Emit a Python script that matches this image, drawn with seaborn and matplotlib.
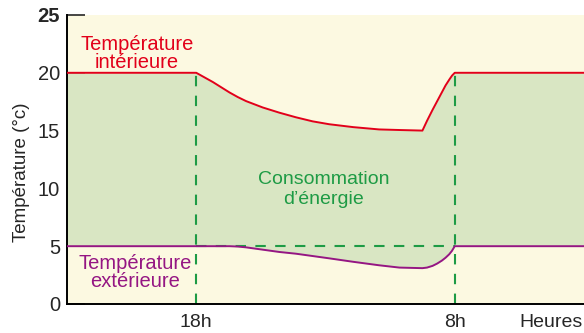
import numpy as np
import pandas as pd
import matplotlib
matplotlib.use("Agg")
import matplotlib.pyplot as plt
import seaborn as sns

# Hours (18h -> 18, 8h next morning -> 32)
hours = [11, 18, 18.45, 18.9, 19.35, 19.8, 20.25, 20.7, 21.6, 22.5, 23.4, 24.3,
         25.2, 26.5, 27.9, 29, 30.25, 30.5, 30.8, 31.05, 31.3, 31.5, 31.7,
         31.85, 32, 39]
# Indoor temperature (°C)
t_int = [20, 20, 19.6, 19.2, 18.75, 18.3, 17.9, 17.55, 17.0, 16.55, 16.15, 15.8,
         15.55, 15.3, 15.1, 15.05, 15.0, 15.85, 16.8, 17.55, 18.3, 18.9, 19.4,
         19.75, 20, 20]
# Outdoor temperature (°C)
t_ext = [5, 5, 5, 5, 5, 5, 4.97, 4.9, 4.7, 4.5, 4.35, 4.15,
         3.95, 3.65, 3.35, 3.15, 3.1, 3.15, 3.3, 3.5, 3.75, 4.0, 4.3,
         4.6, 5, 5]

tick_pos = [18, 32, 37.2]
tick_labels = ["18h", "8h", "Heures"]
y_ticks = [0, 5, 10, 15, 20, 25]

df = pd.DataFrame({"h": hours, "int": t_int, "ext": t_ext})

sns.set_theme(style="ticks")
plt.rcParams["font.family"] = ["Liberation Sans", "DejaVu Sans"]

fig = plt.figure(figsize=(5.84, 3.33), dpi=100)
ax = fig.add_axes([0.1147, 0.0871, 0.8853, 0.8679])
ax.set_facecolor("#FCF9E1")

red = "#E2001A"
purple = "#951683"
green = "#1E9B45"

ax.fill_between(df["h"], df["ext"], df["int"], color="#D9E6C3", lw=0, zorder=1)

# Reference lines at 18h and 8h, and at the outdoor baseline
for xv in (18, 32):
    ax.plot([xv, xv], [0, 20], color=green, lw=1.5, ls=(0, (5, 4.5)), zorder=2)
ax.plot([18, 32], [5, 5], color=green, lw=1.5, ls=(0, (5, 4.5)), zorder=2)

sns.lineplot(data=df, x="h", y="int", color=red, lw=1.4, ax=ax, zorder=3)
sns.lineplot(data=df, x="h", y="ext", color=purple, lw=1.4, ax=ax, zorder=3)

ax.set_xlim(11, 39)
ax.set_ylim(0, 25)
ax.set_xticks(tick_pos)
ax.set_xticklabels(tick_labels, fontsize=14)
ax.set_yticks(y_ticks)
ax.set_yticklabels([str(v) for v in y_ticks], fontsize=14.5)
ax.get_yticklabels()[-1].set_fontweight("bold")
ax.tick_params(axis="x", length=0, pad=7)
ax.tick_params(axis="y", direction="in", length=13, width=1.2, pad=5)
ax.set_xlabel("")
ax.set_ylabel("Température (°c)", fontsize=13.5)
ax.yaxis.set_label_coords(-0.072, 0.455)

for s in ("top", "right"):
    ax.spines[s].set_visible(False)
for s in ("left", "bottom"):
    ax.spines[s].set_linewidth(1.4)
    ax.spines[s].set_color("black")

ax.text(14.8, 21.7, "Température\nintérieure", color=red, fontsize=14.5,
        ha="center", va="center", linespacing=0.95)
ax.text(14.7, 2.75, "Température\nextérieure", color=purple, fontsize=14.5,
        ha="center", va="center", linespacing=0.95)
ax.text(24.9, 9.9, "Consommation\nd\u2019énergie", color=green, fontsize=14,
        ha="center", va="center", linespacing=1.2)

fig.savefig("out.png", dpi=100)
